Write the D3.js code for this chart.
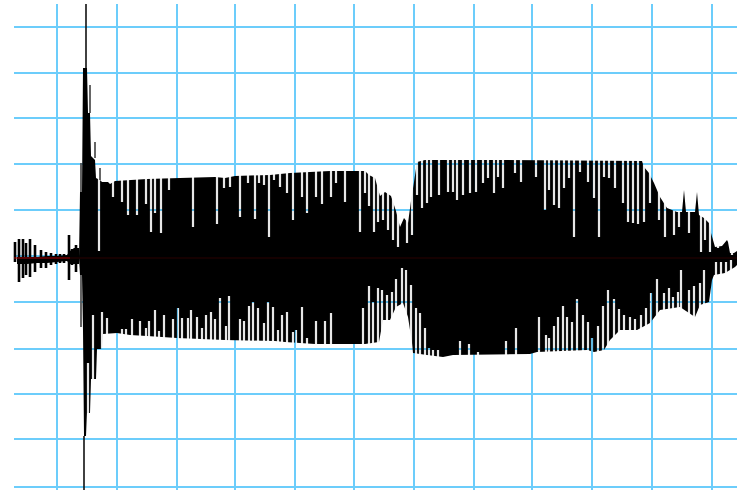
<!DOCTYPE html>
<html>
<head>
<meta charset="utf-8">
<script src="https://cdn.jsdelivr.net/npm/d3@7"></script>
<style>html,body{margin:0;padding:0;background:#fff}svg{display:block;filter:blur(0.6px)}</style>
</head>
<body>
<div id="chart"></div>
<script>
const gridTimes=[0,60,120,178,238,297,357,417,475,535,595,655];
const gridAmps=[229,183,138,92,46,0,-46,-93,-138,-183,-231];
const baseline=-2;
const upperT=[22,23,25,26,30,31,33,34,36,38,39,43,45,51,53,58,90,123,158,168,178,213,233,253,273,308,312,318,323,328,334,339,343,347,351,354,357,360,368,443,585,587,592,597,603,610,620,625,627,629,638,640,642,647,652,654,658,665,670,671,673,677,680];
const upperA=[-2,64,64,188,188,143,143,100,98,96,78,76,74,74,72,75,77,78,79,78,80,81,83,84,85,85,81,78,60,64,60,45,29,38,33,55,74,94,96,96,95,89,83,73,59,48,44,44,66,44,44,64,41,38,33,23,9,10,16,14,3,3,5];
const lowerT=[22,23,25,26,27,29,30,33,34,39,40,45,46,60,73,90,120,168,218,228,258,308,322,326,333,339,346,351,355,356,370,386,396,473,480,530,537,547,553,563,580,593,603,623,638,643,652,655,657,668,678,680];
const lowerA=[-2,-19,-19,-74,-180,-180,-157,-157,-123,-123,-93,-93,-78,-77,-79,-80,-82,-84,-85,-86,-88,-88,-86,-64,-64,-51,-47,-61,-87,-97,-99,-101,-99,-98,-96,-94,-96,-94,-84,-74,-74,-67,-54,-51,-61,-49,-46,-24,-19,-17,-11,-9];
const upperGapT=[42,56,65,71,80,89,94,98,104,112,136,160,167,173,183,191,198,202,207,212,217,223,230,236,245,250,259,265,274,279,288,303,308,312,317,321,326,331,336,341,350,355,360,365,370,374,382,391,396,400,406,413,419,426,431,437,441,446,458,464,479,488,492,497,502,507,512,517,523,531,537,542,547,552,558,566,571,576,581,587,593,602,608,617,622,632,644,648,653,661,675];
const upperGapA=[5,59,54,41,41,52,24,43,23,66,29,32,68,69,39,73,37,73,71,19,76,69,63,36,59,43,59,52,59,73,54,24,63,50,24,34,36,26,16,9,13,21,61,48,53,59,61,64,64,56,61,63,64,73,78,63,79,68,83,74,79,46,66,51,48,68,78,19,84,74,58,19,79,78,68,53,34,33,32,34,53,36,19,21,29,23,4,16,4,8,1];
const lowerGapT=[31,36,45,50,65,69,75,83,89,92,98,102,107,116,121,125,131,134,140,145,149,154,158,163,169,172,183,187,192,196,201,207,211,216,221,225,230,236,239,245,250,259,268,274,306,312,316,321,325,330,335,339,345,349,354,359,363,368,372,376,381,403,412,421,449,459,482,489,492,497,501,506,510,515,520,526,531,535,541,546,551,557,562,567,573,578,584,589,594,600,607,612,616,621,624,632,637,643,647,659,664,669,674];
const lowerGapA=[-107,-59,-56,-62,-73,-73,-63,-65,-72,-65,-54,-75,-59,-63,-52,-62,-62,-54,-61,-72,-59,-56,-63,-42,-70,-40,-63,-65,-50,-46,-52,-67,-46,-51,-74,-59,-56,-76,-74,-51,-82,-65,-65,-57,-52,-30,-46,-32,-34,-39,-36,-23,-12,-14,-29,-52,-57,-72,-92,-94,-94,-85,-88,-96,-85,-72,-61,-79,-82,-70,-61,-50,-61,-66,-43,-59,-66,-82,-70,-50,-34,-43,-53,-59,-61,-63,-59,-52,-37,-23,-37,-32,-41,-36,-14,-34,-30,-27,-14,-6,-6,-6,-4];
const onsetT=[-42,-38,-34,-31,-27,-22,-16,-11,-6,-1,3,7,12,15,19];
const onsetHi=[14,17,17,13,17,11,6,4,3,2,2,2,21,7,11];
const onsetLo=[-6,-26,-22,-19,-21,-16,-12,-12,-9,-8,-7,-7,-24,-9,-16];
const coreT=[-40,-30,-20,-10,0,10,13,17,22];
const coreHi=[-1,-1,-1,0,0,1,5,8,8];
const coreLo=[-8,-8,-7,-7,-6,-5,-8,-8,-8];
const clickT=[29,27];
const clickHi=[252,-180];
const clickLo=[188,-234];
const peakT=[24,33,38,43,24];
const peakHi=[93,171,114,88,-19];
const peakLo=[64,143,98,76,-71];

const W=737,H=492;
const x=d3.scaleLinear().domain([-57,680]).range([0,W]);
const y=d3.scaleLinear().domain([256,-236]).range([0,H]);
const svg=d3.select('#chart').append('svg').attr('width',W).attr('height',H);
svg.append('rect').attr('width',W).attr('height',H).attr('fill','#fff');

const gridColor='#6ccdfb';
svg.append('g').selectAll('line').data(gridTimes).join('line')
  .attr('x1',d=>x(d)).attr('x2',d=>x(d)).attr('y1',y(252)).attr('y2',y(-234))
  .attr('stroke',gridColor).attr('stroke-width',2);
svg.append('g').selectAll('line').data(gridAmps).join('line')
  .attr('x1',x(-43)).attr('x2',x(680)).attr('y1',d=>y(d)).attr('y2',d=>y(d))
  .attr('stroke',gridColor).attr('stroke-width',2);

const mask=svg.append('defs').append('mask').attr('id','gaps').attr('maskUnits','userSpaceOnUse')
  .attr('x',0).attr('y',0).attr('width',W).attr('height',H);
mask.append('rect').attr('width',W).attr('height',H).attr('fill','#fff');
mask.append('g').selectAll('line').data(upperGapT).join('line')
  .attr('x1',d=>x(d)).attr('x2',d=>x(d)).attr('y1',y(260)).attr('y2',(d,i)=>y(upperGapA[i]))
  .attr('stroke','#181818').attr('stroke-width',2.2);
mask.append('g').selectAll('line').data(lowerGapT).join('line')
  .attr('x1',d=>x(d)).attr('x2',d=>x(d)).attr('y1',y(-240)).attr('y2',(d,i)=>y(lowerGapA[i]))
  .attr('stroke','#181818').attr('stroke-width',2.2);

const body=svg.append('g').attr('mask','url(#gaps)');
const areaOf=(ts,as)=>d3.area().x((d,i)=>x(ts[i])).y0(y(baseline)).y1((d,i)=>y(as[i]))(ts);
body.append('path').attr('d',areaOf(upperT,upperA)).attr('fill','#000');
body.append('path').attr('d',areaOf(lowerT,lowerA)).attr('fill','#000');

svg.append('path').attr('d',d3.area().x((d,i)=>x(coreT[i])).y0((d,i)=>y(coreLo[i])).y1((d,i)=>y(coreHi[i]))(coreT)).attr('fill','#000');
svg.append('g').selectAll('line').data(onsetT).join('line')
  .attr('x1',d=>x(d)).attr('x2',d=>x(d)).attr('y1',(d,i)=>y(onsetHi[i])).attr('y2',(d,i)=>y(onsetLo[i]))
  .attr('stroke','#000').attr('stroke-width',2.6);
svg.append('g').selectAll('line').data(peakT).join('line')
  .attr('x1',d=>x(d)).attr('x2',d=>x(d)).attr('y1',(d,i)=>y(peakHi[i])).attr('y2',(d,i)=>y(peakLo[i]))
  .attr('stroke','#555').attr('stroke-width',1.8);
svg.append('g').selectAll('line').data(clickT).join('line')
  .attr('x1',d=>x(d)).attr('x2',d=>x(d)).attr('y1',(d,i)=>y(clickHi[i])).attr('y2',(d,i)=>y(clickLo[i]))
  .attr('stroke','#111').attr('stroke-width',1.6);

svg.append('line').attr('x1',x(-43)).attr('x2',x(13)).attr('y1',y(baseline)).attr('y2',y(baseline))
  .attr('stroke','#b00000').attr('stroke-width',1);
svg.append('line').attr('x1',x(13)).attr('x2',x(680)).attr('y1',y(baseline)).attr('y2',y(baseline))
  .attr('stroke','#2a0000').attr('stroke-width',1);
</script>
</body>
</html>
